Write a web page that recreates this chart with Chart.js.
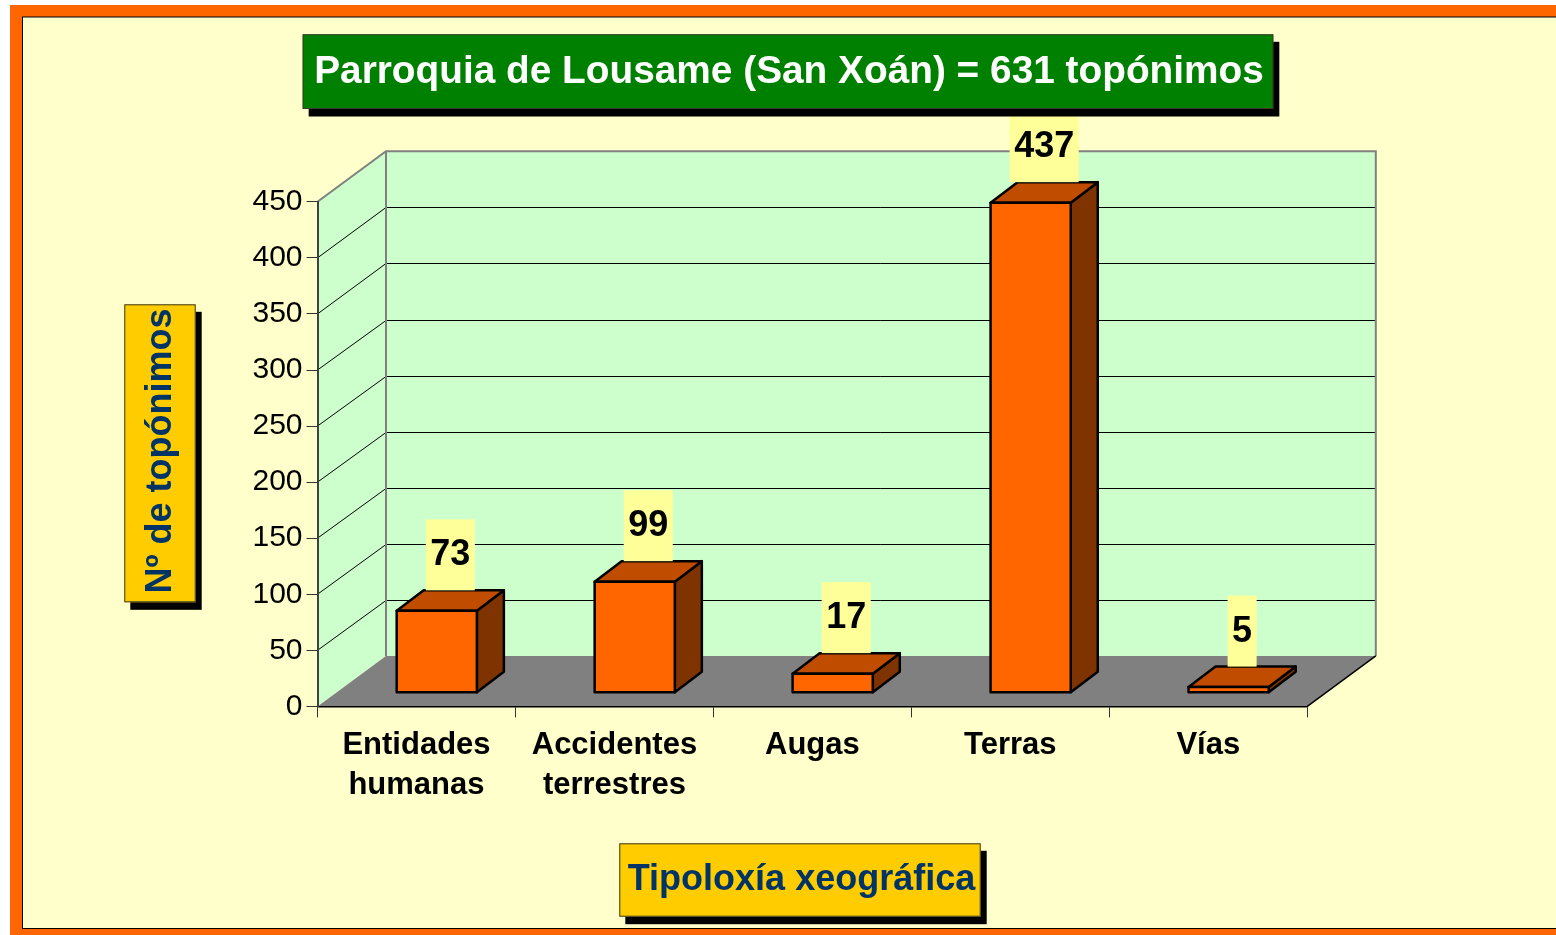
<!DOCTYPE html>
<html>
<head>
<meta charset="utf-8">
<script src="https://cdn.jsdelivr.net/npm/chart.js@4.4.1/dist/chart.umd.min.js"></script>
<style>
  html, body { margin: 0; padding: 0; background: #fff; overflow: hidden; }
  canvas { display: block; }
</style>
</head>
<body>
<canvas id="chart" width="1556" height="935"></canvas>
<script>
var CATEGORIES = [['Entidades', 'humanas'], ['Accidentes', 'terrestres'], 'Augas', 'Terras', 'Vías'];
var VALUES = [73, 99, 17, 437, 5];
var Y_MIN = 0, Y_MAX = 450, Y_STEP = 50;
var TITLE = 'Parroquia de Lousame (San Xoán) = 631 topónimos';
var Y_TITLE = 'Nº de topónimos';
var X_TITLE = 'Tipoloxía xeográfica';

var FONT = "'Liberation Sans', Arial, sans-serif";
var WALL = {x: 68.5, y: -50.5};   // depth of the whole plot box
var SHIFT = {x: 20.3, y: -13.7};  // where the bars stand inside that depth
var DEPTH = {x: 27, y: -20.5};    // depth of one bar

function poly(ctx, pts) {
  ctx.beginPath();
  ctx.moveTo(pts[0][0], pts[0][1]);
  for (var i = 1; i < pts.length; i++) ctx.lineTo(pts[i][0], pts[i][1]);
  ctx.closePath();
}

function shadowBox(ctx, x, y, w, h, fill) {
  ctx.fillStyle = '#000';
  ctx.fillRect(x + 6, y + 7.5, w, h);
  ctx.fillStyle = fill;
  ctx.fillRect(x, y, w, h);
  ctx.strokeStyle = '#3a3a2a';
  ctx.lineWidth = 1;
  ctx.strokeRect(x + 0.5, y + 0.5, w - 1, h - 1);
}

function barBox(bar) {
  var p = bar.getProps(['x', 'y', 'base', 'width'], true);
  return {
    x0: p.x - p.width / 2,
    x1: p.x + p.width / 2,
    top: Math.min(p.y, p.base),
    bot: Math.max(p.y, p.base)
  };
}

var threeD = {
  id: 'threeD',
  beforeDraw: function(chart) {
    var ctx = chart.ctx, a = chart.chartArea, ys = chart.scales.y;
    var L = a.left, R = a.right, T = a.top, B = a.bottom;
    ctx.save();
    // page frame
    ctx.fillStyle = '#fff';
    ctx.fillRect(0, 0, chart.width, chart.height);
    ctx.fillStyle = '#FF6600';
    ctx.fillRect(10, 5, chart.width - 10, chart.height - 5);
    ctx.fillStyle = '#000';
    ctx.fillRect(22, 16.5, chart.width - 22, 929 - 16.5);
    ctx.fillStyle = '#FFFFCC';
    ctx.fillRect(23, 17.5, chart.width - 23, 928 - 17.5);

    // walls and floor
    ctx.fillStyle = '#CCFFCC';
    poly(ctx, [[L, B], [L, T], [L + WALL.x, T + WALL.y], [L + WALL.x, B + WALL.y]]);
    ctx.fill();
    ctx.fillRect(L + WALL.x, T + WALL.y, R - L, B - T);
    ctx.fillStyle = '#808080';
    poly(ctx, [[L, B], [R, B], [R + WALL.x, B + WALL.y], [L + WALL.x, B + WALL.y]]);
    ctx.fill();

    // gridlines on the left and back walls
    ctx.strokeStyle = '#000';
    ctx.lineWidth = 1;
    ys.ticks.forEach(function(t) {
      if (t.value <= ys.min || t.value >= ys.max) return;
      var y = ys.getPixelForValue(t.value);
      var yb = Math.round(y + WALL.y) + 0.5;
      ctx.beginPath();
      ctx.moveTo(L, y);
      ctx.lineTo(L + WALL.x, yb);
      ctx.lineTo(R + WALL.x, yb);
      ctx.stroke();
    });

    ctx.strokeStyle = '#808080';
    ctx.lineWidth = 2;
    ctx.beginPath();
    ctx.moveTo(L, T);
    ctx.lineTo(L + WALL.x, T + WALL.y);
    ctx.lineTo(R + WALL.x, T + WALL.y);
    ctx.lineTo(R + WALL.x, B + WALL.y);
    ctx.moveTo(L + WALL.x, T + WALL.y);
    ctx.lineTo(L + WALL.x, B + WALL.y);
    ctx.stroke();
    ctx.strokeStyle = '#000';
    ctx.lineWidth = 1.5;
    ctx.beginPath();
    ctx.moveTo(R, B);
    ctx.lineTo(R + WALL.x, B + WALL.y);
    ctx.stroke();
    ctx.restore();
  },
  beforeDatasetDraw: function(chart, args) {
    var ctx = chart.ctx;
    ctx.save();
    ctx.translate(SHIFT.x, SHIFT.y);
    ctx.lineWidth = 2.5;
    ctx.strokeStyle = '#000';
    ctx.lineJoin = 'round';
    args.meta.data.forEach(function(bar) {
      var b = barBox(bar);
      ctx.fillStyle = '#7F3300';
      poly(ctx, [[b.x1, b.top], [b.x1 + DEPTH.x, b.top + DEPTH.y], [b.x1 + DEPTH.x, b.bot + DEPTH.y], [b.x1, b.bot]]);
      ctx.fill();
      ctx.stroke();
      ctx.fillStyle = '#C04C00';
      poly(ctx, [[b.x0, b.top], [b.x0 + DEPTH.x, b.top + DEPTH.y], [b.x1 + DEPTH.x, b.top + DEPTH.y], [b.x1, b.top]]);
      ctx.fill();
      ctx.stroke();
    });
  },
  afterDatasetDraw: function(chart, args) {
    var ctx = chart.ctx;
    // outline of the front faces, centred on their edges
    args.meta.data.forEach(function(bar) {
      var b = barBox(bar);
      ctx.strokeRect(b.x0, b.top, b.x1 - b.x0, b.bot - b.top);
    });
    ctx.restore();
  },
  afterDraw: function(chart) {
    var ctx = chart.ctx;
    var values = chart.data.datasets[0].data;
    ctx.save();
    ctx.textAlign = 'center';
    ctx.textBaseline = 'middle';

    // value labels over the bars
    ctx.font = 'bold 36px ' + FONT;
    chart.getDatasetMeta(0).data.forEach(function(bar, i) {
      var p = bar.getProps(['x', 'y'], true);
      var cx = p.x + SHIFT.x + DEPTH.x / 2;
      var bottom = p.y + SHIFT.y + DEPTH.y;
      var txt = String(values[i]);
      var w = ctx.measureText(txt).width + 9;
      ctx.fillStyle = '#FFFF99';
      ctx.fillRect(cx - w / 2, bottom - 71, w, 71);
      ctx.fillStyle = '#000';
      ctx.fillText(txt, cx, bottom - 35);
    });

    // chart title
    ctx.font = 'bold 38.8px ' + FONT;
    var tw = ctx.measureText(TITLE).width + 21;
    shadowBox(ctx, 788 - tw / 2, 34.3, tw, 74.7, '#008000');
    ctx.fillStyle = '#fff';
    ctx.fillText(TITLE, 789, 72);

    // axis titles
    ctx.font = 'bold 36px ' + FONT;
    shadowBox(ctx, 124.3, 304.3, 71.4, 298, '#FFCC00');
    ctx.save();
    ctx.translate(160, 451);
    ctx.rotate(-Math.PI / 2);
    ctx.fillStyle = '#003366';
    ctx.fillText(Y_TITLE, 0, 1);
    ctx.restore();

    shadowBox(ctx, 619.3, 843.3, 361.4, 73.4, '#FFCC00');
    ctx.fillStyle = '#003366';
    ctx.fillText(X_TITLE, 801.5, 880);
    ctx.restore();
  }
};

new Chart(document.getElementById('chart'), {
  type: 'bar',
  data: {
    labels: CATEGORIES,
    datasets: [{
      data: VALUES,
      backgroundColor: '#FF6600',
      borderWidth: 0,
      categoryPercentage: 1,
      barPercentage: 0.405,
      clip: false
    }]
  },
  options: {
    responsive: false,
    animation: false,
    devicePixelRatio: 1,
    layout: { padding: { left: 0, top: 201.8, right: 248.7, bottom: 0 } },
    plugins: {
      legend: { display: false },
      tooltip: { enabled: false }
    },
    scales: {
      x: {
        grid: { drawOnChartArea: false, tickLength: 11, color: '#333', offset: true },
        border: { color: '#000', width: 1.5 },
        ticks: {
          color: '#000',
          font: { family: FONT, size: 31, weight: 'bold', lineHeight: 1.3 },
          padding: 8,
          maxRotation: 0,
          autoSkip: false
        },
        afterFit: function(s) { s.height = 228.6; }
      },
      y: {
        min: Y_MIN,
        max: Y_MAX,
        ticks: { stepSize: Y_STEP, color: '#000', font: { family: FONT, size: 30 }, padding: 4 },
        grid: { drawOnChartArea: false, tickLength: 11, color: '#333' },
        border: { color: '#404040', width: 2 },
        afterFit: function(s) { s.width = 317.5; }
      }
    }
  },
  plugins: [threeD]
});
</script>
</body>
</html>
